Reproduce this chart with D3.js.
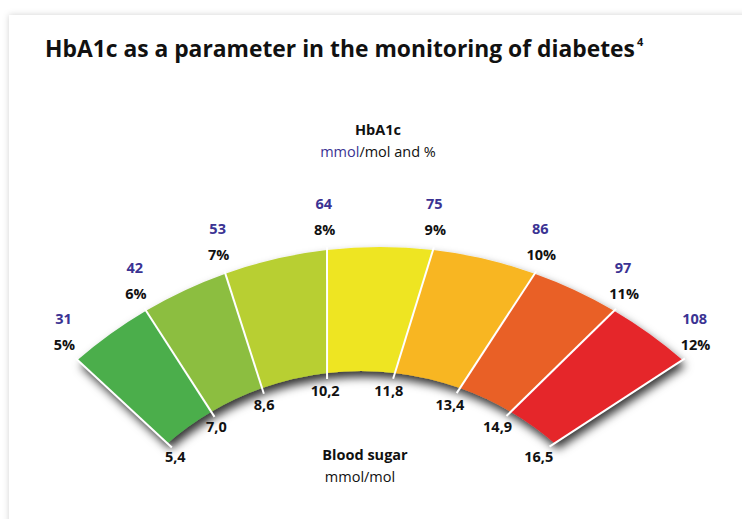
<!DOCTYPE html>
<html><head><meta charset="utf-8">
<script src="https://cdnjs.cloudflare.com/ajax/libs/d3/7.8.5/d3.min.js"></script>
<style>
html,body{margin:0;padding:0;background:#fff;}
svg{display:block;}
text{font-family:"Open Sans","Noto Sans",sans-serif;}
</style></head>
<body>
<svg id="chart" width="742" height="519"></svg>
<script>
// ---- data ----
const hbPercent = [5, 6, 7, 8, 9, 10, 11, 12];
const hbMmol = [31, 42, 53, 64, 75, 86, 97, 108];
const bloodSugar = ["5,4", "7,0", "8,6", "10,2", "11,8", "13,4", "14,9", "16,5"];
const bandColors = ["#4cae4c", "#8cbe41", "#b8cf31", "#eee524", "#f8b620", "#e96125", "#e5262b"];
const boundaryAngles = [-41, -30.5, -19.6, -6.6, 6.6, 19.6, 30.5, 41]; // degrees from vertical

const svg = d3.select("#chart");

// defs
const defs = svg.append("defs");
const cardF = defs.append("filter").attr("id","cardShadow").attr("x","-5%").attr("y","-5%").attr("width","110%").attr("height","110%");
cardF.append("feDropShadow").attr("dx",0).attr("dy",0).attr("stdDeviation",3).attr("flood-color","#000").attr("flood-opacity",0.18);
const segF = defs.append("filter").attr("id","segShadow").attr("x","-10%").attr("y","-10%").attr("width","125%").attr("height","130%");
segF.append("feDropShadow").attr("dx",3).attr("dy",6).attr("stdDeviation",5).attr("flood-color","#000").attr("flood-opacity",0.8);

// card
svg.append("rect").attr("x",9).attr("y",15).attr("width",800).attr("height",600)
  .attr("fill","#fff").attr("filter","url(#cardShadow)");

// title (font size fitted to the reference width)
const title = svg.append("text").attr("x",45).attr("y",57)
  .attr("font-weight",700).attr("font-size",24).attr("fill","#111")
  .text("HbA1c as a parameter in the monitoring of diabetes");
const w0 = title.node().getComputedTextLength();
const fs = 24 * 590 / w0;
title.attr("font-size", fs);
const w1 = title.node().getComputedTextLength();
svg.append("text").attr("x",45 + w1 + 2).attr("y",46)
  .attr("font-weight",700).attr("font-size",11).attr("fill","#111").text("4");

// geometry
const outer = {cx:380, cy:708, r:461};
const inner = {cx:361, cy:666, r:295};
const angle = d3.scaleLinear().domain(hbPercent).range(boundaryAngles.map(a => a*Math.PI/180));
const pt = (c, th, dr=0) => [c.cx + (c.r+dr)*Math.sin(th), c.cy - (c.r+dr)*Math.cos(th)];

const segs = d3.pairs(hbPercent).map((p,i) => ({a0:angle(p[0]), a1:angle(p[1]), color:bandColors[i]}));

const gSeg = svg.append("g").attr("filter","url(#segShadow)");
gSeg.selectAll("path").data(segs).join("path")
  .attr("d", d => {
    const p = d3.path();
    const o0 = pt(outer, d.a0);
    p.moveTo(o0[0], o0[1]);
    p.arc(outer.cx, outer.cy, outer.r, d.a0 - Math.PI/2, d.a1 - Math.PI/2, false);
    const i1 = pt(inner, d.a1);
    p.lineTo(i1[0], i1[1]);
    p.arc(inner.cx, inner.cy, inner.r, d.a1 - Math.PI/2, d.a0 - Math.PI/2, true);
    p.closePath();
    return p.toString();
  })
  .attr("fill", d => d.color);

// white separator lines
svg.append("g").selectAll("line").data(hbPercent).join("line")
  .each(function(v){
    const th = angle(v);
    const o = pt(outer, th), n = pt(inner, th);
    const dx = n[0]-o[0], dy = n[1]-o[1], L = Math.hypot(dx,dy);
    const ux = dx/L, uy = dy/L;
    d3.select(this)
      .attr("x1", o[0]-ux*3).attr("y1", o[1]-uy*3)
      .attr("x2", n[0]+ux*6).attr("y2", n[1]+uy*6);
  })
  .attr("stroke","#fff").attr("stroke-width",2);

// outer labels
const gOut = svg.append("g").attr("font-weight",700).attr("font-size",14.5).attr("text-anchor","middle");
hbPercent.forEach((v,i) => {
  const p = pt(outer, angle(v), 20);
  gOut.append("text").attr("x",p[0]).attr("y",p[1]+5).attr("fill","#111").text(v + "%");
  gOut.append("text").attr("x",p[0]-1).attr("y",p[1]-21).attr("fill","#3b3393").text(hbMmol[i]);
});

// inner labels
const gIn = svg.append("g").attr("font-weight",700).attr("font-size",14.5).attr("text-anchor","middle").attr("fill","#111");
bloodSugar.forEach((s,i) => {
  const p = pt(inner, angle(hbPercent[i]), -18);
  gIn.append("text").attr("x",p[0]-4).attr("y",p[1]+5).text(s);
});

// centre captions
svg.append("text").attr("x",378).attr("y",135).attr("text-anchor","middle")
  .attr("font-weight",700).attr("font-size",14.5).attr("fill","#111").text("HbA1c");
const sub = svg.append("text").attr("x",378).attr("y",157).attr("text-anchor","middle")
  .attr("font-size",14.5).attr("fill","#111");
sub.append("tspan").attr("fill","#3b3393").text("mmol");
sub.append("tspan").text("/mol and %");

svg.append("text").attr("x",365).attr("y",460).attr("text-anchor","middle")
  .attr("font-weight",700).attr("font-size",14.5).attr("fill","#111").text("Blood sugar");
svg.append("text").attr("x",360).attr("y",482).attr("text-anchor","middle")
  .attr("font-size",14.5).attr("fill","#111").text("mmol/mol");
</script>
</body></html>
